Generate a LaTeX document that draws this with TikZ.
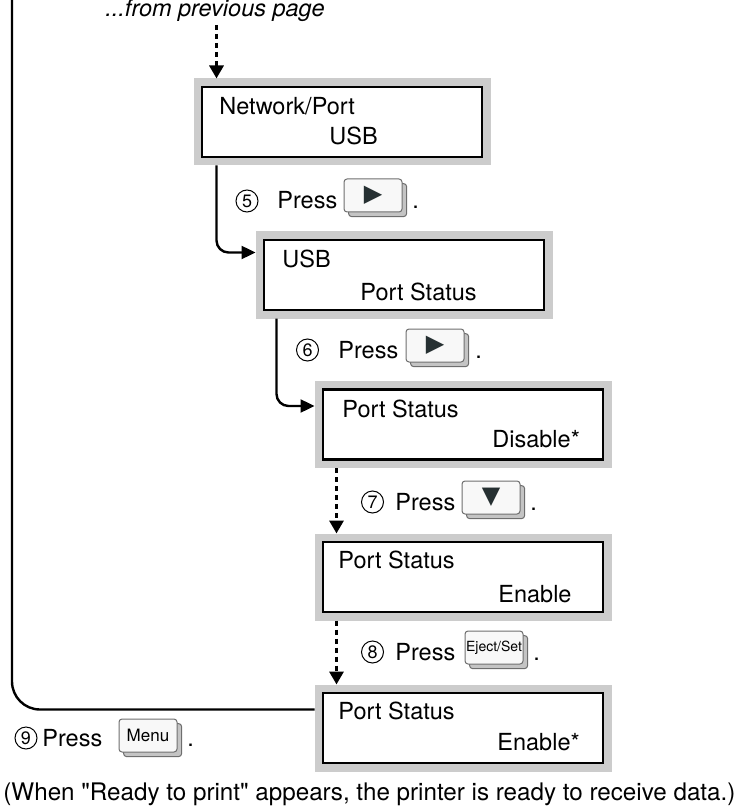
\documentclass[tikz,border=0pt]{standalone}
\usepackage{fontspec}
\setmainfont{TeX Gyre Heros}[Ligatures=TeXOff]
\newfontfamily\symfont{DejaVu Sans}
\usetikzlibrary{calc, positioning}
\usetikzlibrary{arrows.meta}
\usetikzlibrary{shadows}
\definecolor{lcdframe}{HTML}{CCCCCC}
\definecolor{keyface}{HTML}{F8F8F8}
\definecolor{keyedge}{HTML}{6E6E6E}
\definecolor{keyshade}{HTML}{C4C4C4}
\definecolor{keyink}{HTML}{263032}
\tikzset{
  lcd/.style={draw=black, line width=1.2pt, fill=white, minimum width=140pt,
    minimum height=35pt, inner sep=0pt, outer sep=4.25pt,
    preaction={draw=lcdframe, line width=8.5pt}},
  lcdtext/.style={anchor=base west, inner sep=0pt},
  stepnum/.style={circle, draw, line width=0.5pt, minimum size=11pt, inner sep=0pt,
    font=\fontsize{9}{9}\selectfont},
  keycap/.style={draw=keyedge, fill=keyface, line width=0.5pt, rounded corners=1.5pt,
    minimum width=29pt, minimum height=16.5pt, inner sep=0pt,
    copy shadow={shadow xshift=2.3pt, shadow yshift=-2.3pt, fill=keyshade,
      draw=keyedge, line width=0.5pt}},
  keyglyph/.style={font=\symfont\fontsize{12}{12}\selectfont, text=keyink},
  flow/.style={line width=1.2pt, -{Triangle[length=7pt, width=6.5pt]}},
  jump/.style={line width=1.6pt, dash pattern=on 2.5pt off 2pt,
    -{Triangle[length=6.5pt, width=7pt]}}
}
\begin{document}
\begin{tikzpicture}[x=0.5pt, y=-0.5pt, font=\fontsize{11.75}{14}\selectfont]
\path[use as bounding box, clip] (0,0) rectangle (743,812);
% display panels
\node[lcd] (lcdA) at (342,122) {};
\node[lcd] (lcdB) at (404,275) {};
\node[lcd] (lcdC) at (463,424.5) {};
\node[lcd] (lcdD) at (463,577) {};
\node[lcd] (lcdE) at (463,728) {};
\node[lcdtext] (lcdAtop) at ($(lcdA.north west)+(25.5,36.5)$) {Network/Port};
\node[lcdtext] (lcdAbot) at ($(lcdA.north west)+(135.5,66.5)$) {USB};
\node[lcdtext] (lcdBtop) at ($(lcdB.north west)+(26.5,36.5)$) {USB};
\node[lcdtext] (lcdBbot) at ($(lcdB.north west)+(104.5,68.5)$) {Port Status};
\node[lcdtext] (lcdCtop) at ($(lcdC.north west)+(27.5,36)$) {Port Status};
\node[lcdtext] (lcdCbot) at ($(lcdC.north west)+(177.5,66)$) {Disable*};
\node[lcdtext] (lcdDtop) at ($(lcdD.north west)+(23.5,34.5)$) {Port Status};
\node[lcdtext] (lcdDbot) at ($(lcdD.north west)+(183.5,68.5)$) {Enable};
\node[lcdtext] (lcdEtop) at ($(lcdE.north west)+(23.5,34.5)$) {Port Status};
\node[lcdtext] (lcdEbot) at ($(lcdE.north west)+(182.5,65.5)$) {Enable*};
% connectors
\node[inner sep=0pt, anchor=base, font=\fontsize{11.75}{14}\selectfont\itshape]
  (prevnote) at (215,17) {...from previous page};
\coordinate (fromprev) at (216.5,25);
\coordinate (leftTop) at (12,-10);
\draw[jump] (fromprev) -- ($(lcdA.north west)+(23,0)$);
\draw[flow, rounded corners=6pt] ($(lcdA.south west)+(23,0)$) |- ($(lcdB.north west)+(0,21)$);
\draw[flow, rounded corners=6pt] ($(lcdB.south west)+(21,0)$) |- ($(lcdC.north west)+(0,25)$);
\draw[jump] ($(lcdC.south west)+(22,0)$) -- ($(lcdD.north west)+(22,0)$);
\draw[jump] ($(lcdD.south west)+(22,0)$) -- ($(lcdE.north west)+(22,0)$);
\draw[line width=1.2pt, rounded corners=14pt] (leftTop) |- ($(lcdE.north west)+(0,25)$);
% steps
\node[stepnum] (numE) at (247,201) {5};
\node[lcdtext] (pressE) at (277,209) {Press};
\node[keycap] (keyE) at (373,195.5) {};
\node[keyglyph] (glyphE) at (keyE.center) {▶};
\node[lcdtext] (dotE) at (412,209) {.};
\node[stepnum] (numF) at (307.5,350) {6};
\node[lcdtext] (pressF) at (338,358) {Press};
\node[keycap] (keyF) at (435,345.5) {};
\node[keyglyph] (glyphF) at (keyF.center) {▶};
\node[lcdtext] (dotF) at (475,358) {.};
\node[stepnum] (numG) at (372.5,502) {7};
\node[lcdtext] (pressG) at (395,510) {Press};
\node[keycap] (keyG) at (491,497.5) {};
\node[keyglyph] (glyphG) at (keyG.center) {▼};
\node[lcdtext] (dotG) at (530,510) {.};
\node[stepnum] (numH) at (372.5,652) {8};
\node[lcdtext] (pressH) at (395,660) {Press};
\node[keycap, font=\fontsize{7}{8}\selectfont] (keyH) at (494,647.5) {Eject/Set};
\node[lcdtext] (dotH) at (533,660) {.};
\node[stepnum] (numI) at (26,738) {9};
\node[lcdtext] (pressI) at (42,746) {Press};
\node[keycap, font=\fontsize{8.5}{10}\selectfont] (keyI) at (148,735.5) {Menu};
\node[lcdtext] (dotI) at (187,746) {.};
\node[lcdtext, font=\fontsize{12.1}{14}\selectfont] (readynote) at (3,800)
  {(When "Ready to print" appears, the printer is ready to receive data.)};
\end{tikzpicture}
\end{document}
